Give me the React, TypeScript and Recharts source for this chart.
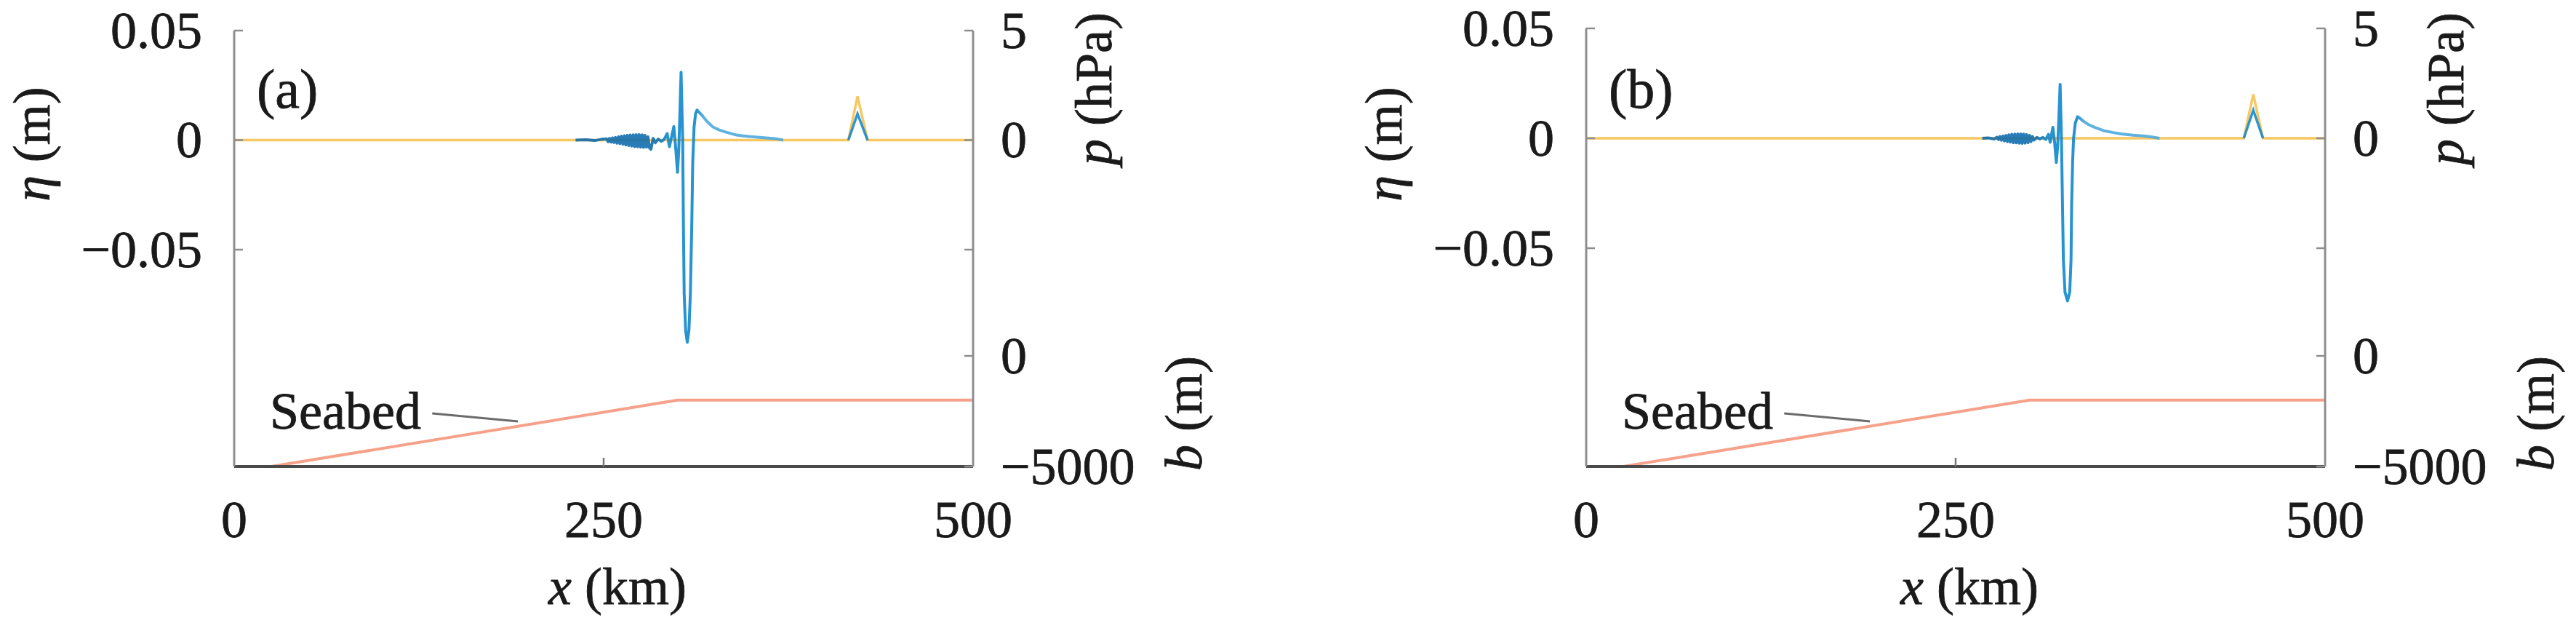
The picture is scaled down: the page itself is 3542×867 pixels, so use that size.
import React from 'react';
import { LineChart, Line, XAxis, YAxis, ReferenceLine } from 'recharts';

const SERIF = "'Liberation Serif'";
const INK = '#1a1a1a';
const FRAME_DARK = '#4a4a4a';
const FRAME_SIDE = '#8e8e8e';
const BLUE = '#0a84ca';
const BLUE_DARK = '#0b6aab';
const BLUE_LIGHT = '#4aa7dc';
const YELLOW = '#f5b835';
const SEABED = '#f6a189';

const xTicks = [0, 250, 500];
const etaTicks = [-0.05, 0, 0.05];
const pTicks = [-5, 0, 5];
const bTicks = [-5000, 0];

// panel (a): surface elevation eta (m) along x (km)
const waveKmA = [
  231, 238, 244, 248, 252, 253, 254, 255, 256, 257, 258, 259, 260, 261, 262, 263, 264, 265, 266, 267,
  268, 269, 270, 271, 272, 273, 274, 275, 276, 277, 278, 279, 280, 281, 282,
  283.5, 285, 287, 289, 291, 293, 294.5, 296, 297.5, 298.8, 300, 300.8, 301.6, 302.4, 303.5, 304, 304.5,
  305.5, 306.6, 307.7, 308.7, 309.6, 310.3, 311.2, 312.2, 313.2, 314.5, 317, 320, 324, 328, 332, 340,
  348, 357, 366, 371.5,
];
const waveEtaA = [
  0, 0.0002, -0.0002, 0.0003, 0.0006, -0.0007, 0.0008, -0.0009, 0.001, -0.0011, 0.0012, -0.0014, 0.0015,
  -0.0016, 0.0018, -0.0019, 0.002, -0.0022, 0.0022, -0.0025,
  0.0023, -0.0027, 0.0024, -0.003, 0.0025, -0.0031, 0.0025, -0.0032, 0.0024, -0.0033, 0.0022, -0.0032,
  0.0015, -0.0035, -0.0042,
  0.0008, -0.0012, 0.0005, -0.0006, 0.0004, 0.003, -0.003, 0.0015, 0.0062, -0.004, -0.0147, -0.005, 0.012,
  0.031, 0.0, -0.04, -0.07,
  -0.087, -0.0923, -0.087, -0.07, -0.04, -0.01, 0.006, 0.012, 0.0137, 0.0128, 0.011, 0.0085, 0.006,
  0.0047, 0.0038, 0.0023, 0.0017, 0.0012, 0.0007, 0,
];
const bumpKmA = [415.6, 421.8, 428.6];
const bumpEtaA = [0, 0.012, 0];
const presKmA = [0, 415.6, 421.8, 428.6, 500];
const presHpaA = [0, 0, 2.0, 0, 0];
// where the wave changes shade: end of dispersive blob, start of the decaying tail
const shadeKmA = [284, 292, 313, 318];

// panel (b)
const waveKmB = [
  268, 272, 276, 278, 279, 280, 281, 282, 283, 284, 285, 286, 287, 288, 289, 290, 291, 292, 293, 294,
  295, 296, 297, 298, 299, 300, 301, 302, 303, 305, 307, 309, 311, 312.8,
  314, 315.8, 317, 318.1, 319, 319.9, 320.7, 321.6, 322.3, 322.9, 324, 325.7, 327.2, 328.1, 328.5, 329.2,
  329.8, 331, 332.5, 334, 337, 340, 344, 350, 356, 362, 370, 377, 383, 388,
];
const waveEtaB = [
  0, 0.0002, -0.0003, 0.0005, -0.0006, 0.0008, -0.0009, 0.001, -0.0012, 0.0013, -0.0015, 0.0016, -0.0017,
  0.0018, -0.002, 0.0019, -0.0021, 0.002, -0.0022, 0.002,
  -0.0023, 0.0019, -0.0022, 0.0017, -0.002, 0.0013, -0.0015, 0.0008, -0.0008, 0.0004, -0.0003, 0.0004,
  -0.0005, 0.0018,
  -0.0018, 0.005, -0.002, -0.011, -0.004, 0.01, 0.0245, 0.0, -0.03, -0.055, -0.07, -0.074, -0.07, -0.055,
  -0.03, -0.01,
  0, 0.007, 0.0098, 0.0092, 0.0075, 0.0062, 0.005, 0.0035, 0.0027, 0.002, 0.0014, 0.0011, 0.0006, 0,
];
const bumpKmB = [445, 451.4, 458];
const bumpEtaB = [0, 0.0128, 0];
const presKmB = [0, 445, 451.4, 458, 500];
const presHpaB = [0, 0, 2.0, 0, 0];
const shadeKmB = [304, 311, 332, 337];

// bathymetry b (m), same in both panels
const seabedKm = [0, 25, 300, 500];
const seabedDepth = [-5000, -5000, -2000, -2000];
const leaderKm = [134, 192];
const leaderDepth = [-2600, -2960];

const zip = (xs: number[], ys: number[]) => xs.map((x, i) => ({ x, v: ys[i] }));

const PLOT_W = 1016;
const MID = 489;
const BOTTOM = 641;
const AXIS_W = 322;
const RIGHT_W = 340;
const H = 867;

const panels = [
  {
    tag: 'a', left: 322, top: 42, etaMin: -0.0985, km: waveKmA, shade: shadeKmA,
    wave: zip(waveKmA, waveEtaA), bump: zip(bumpKmA, bumpEtaA), pres: zip(presKmA, presHpaA),
  },
  {
    tag: 'b', left: 2181, top: 39, etaMin: -0.099, km: waveKmB, shade: shadeKmB,
    wave: zip(waveKmB, waveEtaB), bump: zip(bumpKmB, bumpEtaB), pres: zip(presKmB, presHpaB),
  },
];

const seabed = zip(seabedKm, seabedDepth);

const fmt = (v: number) => String(v).replace('-', '\u2212');
// slight stroke thickens the glyphs like the scanned figure
const txtStyle = { fontFamily: SERIF, fontSize: 72, fill: INK, stroke: INK, strokeWidth: 0.8 };

function LeftTick(props: any) {
  const { x, y, payload } = props;
  return (
    <g>
      <line x1={x} x2={x + 12} y1={y} y2={y} stroke={FRAME_SIDE} strokeWidth={2.5} />
      <text x={x - 44} y={y} dy="0.33em" textAnchor="end" style={txtStyle}>{fmt(payload.value)}</text>
    </g>
  );
}

const rightTick = (noLabel: number[]) => (props: any) => {
  const { x, y, payload } = props;
  return (
    <g>
      <line x1={x - 12} x2={x} y1={y} y2={y} stroke={FRAME_SIDE} strokeWidth={2.5} />
      {!noLabel.includes(payload.value) && (
        <text x={x + 38} y={y} dy="0.33em" textAnchor="start" style={txtStyle}>{fmt(payload.value)}</text>
      )}
    </g>
  );
};

function TopTick(props: any) {
  const { x, y, payload } = props;
  if (payload.value === 0 || payload.value === 500) return <g />;
  return <line x1={x} x2={x} y1={y} y2={y + 12} stroke="#777" strokeWidth={2.5} />;
}

function BottomTick(props: any) {
  const { x, y, payload } = props;
  const inner = payload.value !== 0 && payload.value !== 500;
  return (
    <g>
      {inner && <line x1={x} x2={x} y1={y - 12} y2={y} stroke="#777" strokeWidth={2.5} />}
      <text x={x} y={y + 97} textAnchor="middle" style={txtStyle}>{fmt(payload.value)}</text>
    </g>
  );
}

function Panel({ p }: { p: (typeof panels)[number] }) {
  const chartLeft = p.left - AXIS_W;
  const chartW = AXIS_W + PLOT_W + RIGHT_W;
  const k0 = p.km[0];
  const k1 = p.km[p.km.length - 1];
  const off = (k: number) => `${(((k - k0) / (k1 - k0)) * 100).toFixed(2)}%`;
  const gid = `wave-${p.tag}`;
  return (
    <>
      <div style={{ position: 'absolute', left: chartLeft, top: 0 }}>
        <LineChart width={chartW} height={MID + 4} margin={{ top: p.top, right: 0, bottom: 4, left: 0 }}>
          <defs>
            <linearGradient id={gid} x1="0" y1="0" x2="1" y2="0">
              <stop offset="0%" stopColor={BLUE_DARK} />
              <stop offset={off(p.shade[0])} stopColor={BLUE_DARK} />
              <stop offset={off(p.shade[1])} stopColor={BLUE} />
              <stop offset={off(p.shade[2])} stopColor={BLUE} />
              <stop offset={off(p.shade[3])} stopColor={BLUE_LIGHT} />
              <stop offset="100%" stopColor={BLUE_LIGHT} />
            </linearGradient>
          </defs>
          <XAxis
            xAxisId="t" orientation="top" type="number" dataKey="x" height={0}
            domain={[0, 500]} ticks={xTicks} interval={0} allowDataOverflow
            axisLine={{ stroke: FRAME_DARK, strokeWidth: 4 }} tickLine={false} tickSize={0} tickMargin={0}
            tick={TopTick}
          />
          <YAxis
            yAxisId="eta" orientation="left" type="number" width={AXIS_W}
            domain={[p.etaMin, 0.05]} ticks={etaTicks} interval={0} allowDataOverflow
            axisLine={{ stroke: FRAME_SIDE, strokeWidth: 3 }} tickLine={false} tickSize={0} tickMargin={0}
            tick={LeftTick}
          />
          <YAxis
            yAxisId="p" orientation="right" type="number" width={RIGHT_W}
            domain={[p.etaMin * 100, 5]} ticks={pTicks} interval={0} allowDataOverflow
            axisLine={{ stroke: FRAME_SIDE, strokeWidth: 3 }} tickLine={false} tickSize={0} tickMargin={0}
            tick={rightTick([-5])}
          />
          <Line
            data={p.pres} xAxisId="t" yAxisId="p" dataKey="v" type="linear" dot={false} activeDot={false}
            stroke={YELLOW} strokeWidth={3.5} strokeOpacity={0.78} isAnimationActive={false}
          />
          <Line
            data={p.wave} xAxisId="t" yAxisId="eta" dataKey="v" type="linear" dot={false} activeDot={false}
            stroke={`url(#${gid})`} strokeWidth={4} strokeOpacity={0.88} strokeLinejoin="round"
            isAnimationActive={false}
          />
          <Line
            data={p.bump} xAxisId="t" yAxisId="eta" dataKey="v" type="linear" dot={false} activeDot={false}
            stroke={BLUE} strokeWidth={3.5} strokeOpacity={0.85} isAnimationActive={false}
          />
        </LineChart>
      </div>
      <div style={{ position: 'absolute', left: chartLeft, top: 0 }}>
        <LineChart width={chartW} height={H} margin={{ top: MID, right: 0, bottom: 0, left: 0 }}>
          <XAxis
            xAxisId="mid" orientation="top" type="number" dataKey="x" height={0}
            domain={[0, 500]} ticks={xTicks} allowDataOverflow
            axisLine={{ stroke: FRAME_DARK, strokeWidth: 4 }} tickLine={false} tick={false}
          />
          <XAxis
            xAxisId="bot" orientation="bottom" type="number" dataKey="x" height={H - BOTTOM}
            domain={[0, 500]} ticks={xTicks} interval={0} allowDataOverflow
            axisLine={{ stroke: FRAME_DARK, strokeWidth: 4 }} tickLine={false} tickSize={0} tickMargin={0}
            tick={BottomTick}
          />
          <YAxis
            yAxisId="bl" orientation="left" type="number" width={AXIS_W} domain={[-5000, 0]}
            axisLine={{ stroke: FRAME_SIDE, strokeWidth: 3 }} tickLine={false} tick={false}
          />
          <YAxis
            yAxisId="b" orientation="right" type="number" width={RIGHT_W}
            domain={[-5000, 0]} ticks={bTicks} interval={0} allowDataOverflow
            axisLine={{ stroke: FRAME_SIDE, strokeWidth: 3 }} tickLine={false} tickSize={0} tickMargin={0}
            tick={rightTick([])}
          />
          <Line
            data={seabed} xAxisId="bot" yAxisId="b" dataKey="v" type="linear" dot={false} activeDot={false}
            stroke={SEABED} strokeWidth={4} isAnimationActive={false}
          />
          <ReferenceLine
            xAxisId="bot" yAxisId="b"
            segment={[{ x: leaderKm[0], y: leaderDepth[0] }, { x: leaderKm[1], y: leaderDepth[1] }]}
            stroke="#6b6b6b" strokeWidth={3}
          />
        </LineChart>
      </div>
    </>
  );
}

function Titles({ p }: { p: (typeof panels)[number] }) {
  const L = p.left;
  const R = p.left + PLOT_W;
  return (
    <g>
      <text x={L + 31} y={148} style={{ ...txtStyle, fontSize: 76 }}>{`(${p.tag})`}</text>
      <text transform={`translate(${L - 254},198) rotate(-90)`} textAnchor="middle" style={txtStyle}>
        <tspan fontStyle="italic">η</tspan>
        <tspan>{'\u00a0(m)'}</tspan>
      </text>
      <text transform={`translate(${R + 190},122) rotate(-90)`} textAnchor="middle" style={txtStyle}>
        <tspan fontStyle="italic">p</tspan>
        <tspan>{'\u00a0(hPa)'}</tspan>
      </text>
      <text transform={`translate(${R + 314},568) rotate(-90)`} textAnchor="middle" style={txtStyle}>
        <tspan fontStyle="italic">b</tspan>
        <tspan>{'\u00a0(m)'}</tspan>
      </text>
      <text x={L + 527} y={830} textAnchor="middle" style={txtStyle}>
        <tspan fontStyle="italic">x</tspan>
        <tspan>{'\u00a0(km)'}</tspan>
      </text>
      <text x={L + 49} y={589} style={txtStyle}>Seabed</text>
    </g>
  );
}

export default function App() {
  return (
    <div
      style={{
        position: 'absolute', left: 0, top: 0, width: 3542, height: H,
        overflow: 'hidden', background: '#fff', fontFamily: SERIF,
      }}
    >
      {panels.map((p) => (
        <Panel key={p.tag} p={p} />
      ))}
      <svg width={3542} height={H} style={{ position: 'absolute', left: 0, top: 0, pointerEvents: 'none' }}>
        {panels.map((p) => (
          <Titles key={p.tag} p={p} />
        ))}
      </svg>
    </div>
  );
}
